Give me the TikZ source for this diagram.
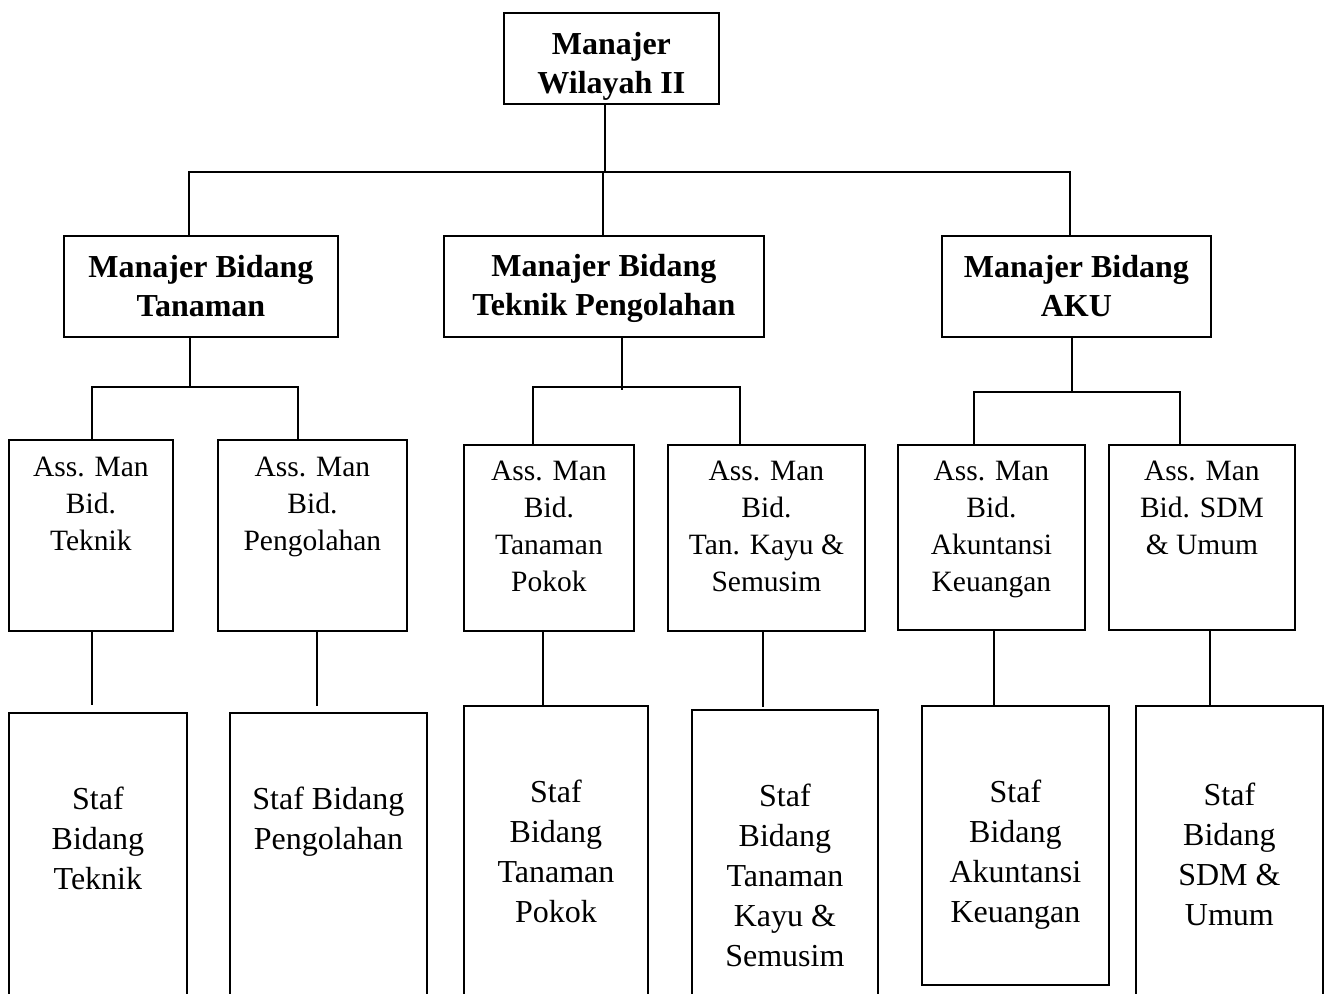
\documentclass[tikz,border=0pt]{standalone}
\usepackage{fontspec}
\setmainfont{Liberation Serif}
\begin{document}
\begin{tikzpicture}[x=1pt,y=-1pt,
  box/.style={draw, line width=1.8pt, inner sep=0pt, anchor=north west},
  lnk/.style={line width=1.8pt},
  boldtxt/.style={font=\fontsize{32}{38.5}\selectfont\bfseries, align=center, inner sep=0pt, anchor=base},
  asstxt/.style={font=\fontsize{29.5}{36.7}\selectfont, align=center, inner sep=0pt, anchor=base},
  staftxt/.style={font=\fontsize{32}{40}\selectfont, align=center, inner sep=0pt, anchor=base}]
\useasboundingbox (0,0) rectangle (1329,993);
% level 1
\node[box, minimum width=215pt, minimum height=91pt] (m0) at (503,12) {};
\node[boldtxt] (m0t) at ([yshift=-81pt]m0.north) {Manajer\\Wilayah II};
% level 2
\node[box, minimum width=274pt, minimum height=101pt] (m1) at (63,235) {};
\node[box, minimum width=320pt, minimum height=101pt] (m2) at (443,235) {};
\node[box, minimum width=269pt, minimum height=101pt] (m3) at (941,235) {};
\node[boldtxt] (m1t) at ([yshift=-81pt]m1.north) {Manajer Bidang\\Tanaman};
\node[boldtxt] (m2t) at ([yshift=-80pt]m2.north) {Manajer Bidang\\Teknik Pengolahan};
\node[boldtxt] (m3t) at ([yshift=-81pt]m3.north) {Manajer Bidang\\AKU};
% level 3
\node[box, minimum width=164pt, minimum height=191pt] (a1) at (8,439) {};
\node[box, minimum width=189pt, minimum height=191pt] (a2) at (217,439) {};
\node[box, minimum width=170pt, minimum height=186pt] (a3) at (463,444) {};
\node[box, minimum width=197pt, minimum height=186pt] (a4) at (667,444) {};
\node[box, minimum width=187pt, minimum height=185pt] (a5) at (897,444) {};
\node[box, minimum width=186pt, minimum height=185pt] (a6) at (1108,444) {};
\node[asstxt] (a1t) at ([yshift=-111pt]a1.north) {Ass. Man\\Bid.\\Teknik};
\node[asstxt] (a2t) at ([yshift=-111pt]a2.north) {Ass. Man\\Bid.\\Pengolahan};
\node[asstxt] (a3t) at ([yshift=-147pt]a3.north) {Ass. Man\\Bid.\\Tanaman\\Pokok};
\node[asstxt] (a4t) at ([yshift=-147pt]a4.north) {Ass. Man\\Bid.\\Tan. Kayu \&\\Semusim};
\node[asstxt] (a5t) at ([yshift=-147pt]a5.north) {Ass. Man\\Bid.\\Akuntansi\\Keuangan};
\node[asstxt] (a6t) at ([yshift=-110pt]a6.north) {Ass. Man\\Bid. SDM\\\& Umum};
% level 4
\node[box, minimum width=178pt, minimum height=300pt] (s1) at (8,712) {};
\node[box, minimum width=197pt, minimum height=300pt] (s2) at (229,712) {};
\node[box, minimum width=184pt, minimum height=300pt] (s3) at (463,705) {};
\node[box, minimum width=186pt, minimum height=300pt] (s4) at (691,709) {};
\node[box, minimum width=187pt, minimum height=279pt] (s5) at (921,705) {};
\node[box, minimum width=187pt, minimum height=300pt] (s6) at (1135,705) {};
\node[staftxt] (s1t) at ([yshift=-177pt]s1.north) {Staf\\Bidang\\Teknik};
\node[staftxt] (s2t) at ([yshift=-137pt]s2.north) {Staf Bidang\\Pengolahan};
\node[staftxt] (s3t) at ([yshift=-217pt]s3.north) {Staf\\Bidang\\Tanaman\\Pokok};
\node[staftxt] (s4t) at ([yshift=-257pt]s4.north) {Staf\\Bidang\\Tanaman\\Kayu \&\\Semusim};
\node[staftxt] (s5t) at ([yshift=-217pt]s5.north) {Staf\\Bidang\\Akuntansi\\Keuangan};
\node[staftxt] (s6t) at ([yshift=-220pt]s6.north) {Staf\\Bidang\\SDM \&\\Umum};
% top bus
\coordinate (b0) at (605,172);
\coordinate (b0l) at (189,172);
\coordinate (b0r) at (1070,172);
\coordinate (b0m) at (603,172);
\draw[lnk] (m0.south -| b0) -- (b0);
\draw[lnk] (m1.north -| b0l) -- (b0l) -- (b0r) -- (m3.north -| b0r);
\draw[lnk] (b0m) -- (m2.north -| b0m);
% level 2 -> 3
\coordinate (b1) at (190,387);
\coordinate (b1l) at (92,387);
\coordinate (b1r) at (298,387);
\draw[lnk] (m1.south -| b1) -- (b1);
\draw[lnk] (a1.north -| b1l) -- (b1l) -- (b1r) -- (a2.north -| b1r);
\coordinate (b2) at (622,390);
\coordinate (b2l) at (533,387);
\coordinate (b2r) at (740,387);
\draw[lnk] (m2.south -| b2) -- (b2);
\draw[lnk] (a3.north -| b2l) -- (b2l) -- (b2r) -- (a4.north -| b2r);
\coordinate (b3) at (1072,392);
\coordinate (b3l) at (974,392);
\coordinate (b3r) at (1180,392);
\draw[lnk] (m3.south -| b3) -- (b3);
\draw[lnk] (a5.north -| b3l) -- (b3l) -- (b3r) -- (a6.north -| b3r);
% level 3 -> 4
\coordinate (e1) at (92,705);
\coordinate (e2) at (317,706);
\coordinate (e3) at (543,705);
\coordinate (e4) at (763,707);
\coordinate (e5) at (994,705);
\coordinate (e6) at (1210,705);
\draw[lnk] (a1.south -| e1) -- (e1);
\draw[lnk] (a2.south -| e2) -- (e2);
\draw[lnk] (a3.south -| e3) -- (s3.north -| e3);
\draw[lnk] (a4.south -| e4) -- (e4);
\draw[lnk] (a5.south -| e5) -- (s5.north -| e5);
\draw[lnk] (a6.south -| e6) -- (s6.north -| e6);
\end{tikzpicture}
\end{document}
